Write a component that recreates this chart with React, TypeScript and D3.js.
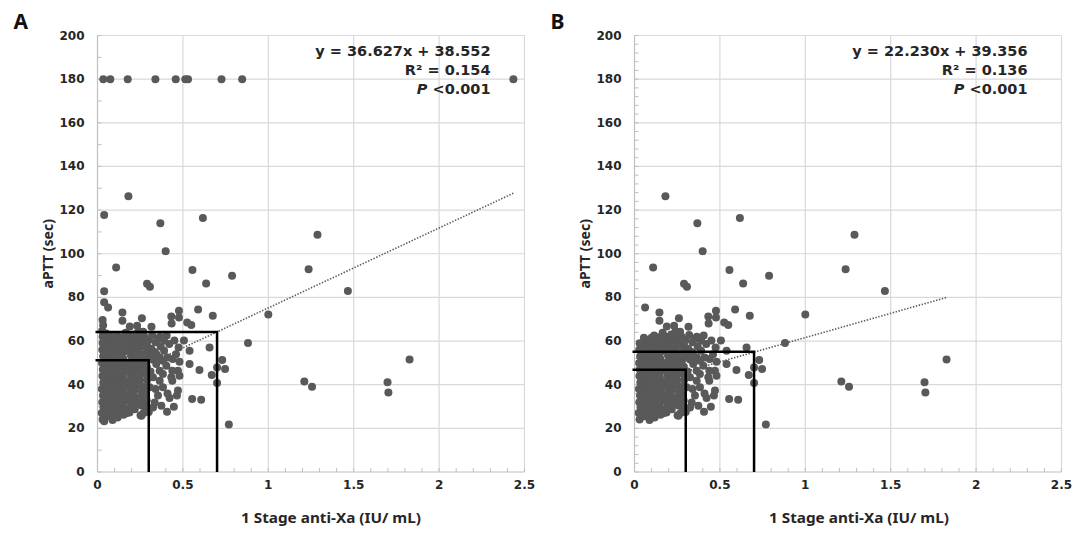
import React from "react";
import * as d3 from "d3";

const W = 1080;
const H = 534;
const PLOT_TOP = 35.5;
const PLOT_BOTTOM = 472;
const PLOT_W = 427;

const xTicks = [0, 0.5, 1, 1.5, 2, 2.5];
const xTickLabels = ["0", "0.5", "1", "1.5", "2", "2.5"];
const yTicks = [0, 20, 40, 60, 80, 100, 120, 140, 160, 180, 200];

// dense cluster near the origin, seen in both panels
const sharedCluster: [number, number][] = [
  [0.03, 24], [0.025, 27], [0.035, 29.5], [0.028, 32], [0.032, 35], [0.026, 38], [0.034, 41],
  [0.029, 44], [0.031, 47], [0.027, 50], [0.033, 53], [0.028, 56], [0.03, 59],
  [0.058, 25.5], [0.062, 28.3], [0.057, 31], [0.064, 34.2], [0.06, 37], [0.056, 40], [0.063, 42.6],
  [0.059, 45.5], [0.061, 48.3], [0.058, 51], [0.063, 54],
  [0.088, 23.8], [0.093, 26.7], [0.09, 29.6], [0.086, 32.4], [0.094, 35.5], [0.091, 38.3], [0.087, 41.2],
  [0.092, 44], [0.089, 46.8], [0.095, 49.6], [0.09, 52.5], [0.086, 55.8],
  [0.118, 25], [0.122, 28], [0.125, 30.8], [0.119, 33.7], [0.124, 36.5], [0.12, 39.4], [0.126, 42.2],
  [0.117, 45.1], [0.123, 48], [0.121, 50.9], [0.127, 53.6], [0.118, 57],
  [0.152, 26.2], [0.157, 29], [0.15, 32], [0.158, 34.8], [0.153, 37.7], [0.156, 40.5], [0.149, 43.5],
  [0.155, 46.3], [0.16, 49.2], [0.151, 52], [0.157, 55.2], [0.154, 58.5],
  [0.187, 27.3], [0.192, 30.2], [0.185, 33], [0.193, 36], [0.19, 38.8], [0.186, 41.7], [0.194, 44.6],
  [0.188, 47.5], [0.191, 50.3], [0.196, 53.4], [0.184, 56.3],
  [0.218, 28.8], [0.224, 31.5], [0.22, 34.5], [0.216, 37.4], [0.225, 40.1], [0.221, 43], [0.217, 45.9],
  [0.226, 48.7], [0.22, 51.6], [0.215, 54.8],
  [0.252, 26], [0.257, 30.5], [0.25, 33.6], [0.258, 36.6], [0.254, 39.5], [0.249, 42.4], [0.256, 45.2],
  [0.253, 48.1], [0.259, 51], [0.251, 54],
  [0.283, 29.5], [0.288, 32.8], [0.281, 35.8], [0.286, 38.9], [0.29, 42], [0.284, 45], [0.289, 48.2],
  [0.282, 51.5], [0.287, 55],
  [0.169, 26.9], [0.257, 25.8], [0.27, 27], [0.3, 27.5],
];

// band between ~50 and ~66 and the spread out to 0.5
const sharedBand: [number, number][] = [
  [0.045, 58], [0.07, 60.5], [0.1, 61.5], [0.085, 58.8], [0.13, 60], [0.115, 62.5], [0.15, 61.8],
  [0.175, 59.5], [0.2, 60.8], [0.165, 63.8], [0.21, 58], [0.235, 61.2], [0.26, 59.2], [0.245, 57],
  [0.275, 62], [0.3, 60.5], [0.29, 58], [0.315, 56.5], [0.32, 62.8], [0.34, 59.5], [0.335, 55],
  [0.355, 61], [0.37, 57.5], [0.39, 60.2], [0.405, 62.5], [0.42, 58.6], [0.45, 60.2], [0.475, 57.1],
  [0.46, 54], [0.44, 51.8], [0.41, 52.5], [0.39, 55.6], [0.365, 52.5], [0.345, 54], [0.325, 51.5],
  [0.3, 53.5], [0.27, 57.5], [0.2, 57], [0.14, 56.5], [0.105, 57.5], [0.075, 57.5],
  [0.045, 54.5], [0.072, 55], [0.1, 54], [0.135, 59.5], [0.17, 56], [0.23, 59], [0.26, 62.5],
  [0.11, 60], [0.185, 62], [0.285, 60], [0.055, 61.5], [0.215, 63], [0.24, 64.5],
  [0.48, 50.5], [0.471, 46.4], [0.432, 43.4], [0.48, 44.1], [0.438, 41.8], [0.438, 46.4], [0.403, 48.7],
  [0.383, 51], [0.344, 49.5], [0.364, 46.4], [0.383, 44.9], [0.325, 43.4], [0.364, 41.8], [0.383, 38.8],
  [0.305, 38.8], [0.354, 35], [0.335, 31.9], [0.325, 29.6], [0.374, 30.4], [0.407, 27.6], [0.447, 29.9],
  [0.471, 37.3], [0.465, 35], [0.422, 33.9], [0.31, 46], [0.34, 38], [0.41, 36],
  [0.062, 75.4], [0.146, 73.1], [0.146, 69.3], [0.189, 66.7], [0.232, 67], [0.26, 70.5], [0.316, 66.6],
  [0.267, 64.3], [0.365, 62], [0.432, 71.3], [0.434, 68], [0.477, 73.9], [0.477, 70.8], [0.525, 68.5],
  [0.549, 67.3], [0.589, 74.4], [0.675, 71.6],
  [0.506, 60.2], [0.539, 55.6], [0.539, 49.5], [0.597, 46.7], [0.554, 33.4], [0.607, 33.1], [0.656, 57.1],
  [0.669, 44.4], [0.7, 47.9], [0.73, 51.3], [0.747, 47.2], [0.7, 40.8],
];

const sharedOutliers: [number, number][] = [
  [0.181, 126.3], [0.109, 93.7], [0.368, 114], [0.399, 101.2], [0.617, 116.4], [0.556, 92.5],
  [0.636, 86.4], [0.788, 89.9], [1.236, 92.9], [1.288, 108.7], [1.466, 82.9], [1.0, 72.2],
  [0.881, 59.1], [1.211, 41.5], [1.256, 39.1], [1.698, 41.1], [1.703, 36.4], [1.827, 51.6],
  [0.769, 21.8], [0.29, 86.2], [0.307, 84.9],
];

// only in panel A
const panelAOnly: [number, number][] = [
  [0.034, 180], [0.075, 180], [0.177, 180], [0.339, 180], [0.458, 180], [0.514, 180], [0.53, 180],
  [0.726, 180], [0.847, 180], [2.435, 180],
  [0.039, 117.7], [0.039, 82.8], [0.039, 77.8],
  [0.03, 62], [0.027, 64.6], [0.033, 67.2], [0.03, 69.6], [0.05, 63.5], [0.039, 23.2], [0.072, 62.5],
];

const pointsA = [...sharedCluster, ...sharedBand, ...sharedOutliers, ...panelAOnly];
const pointsB = [...sharedCluster, ...sharedBand, ...sharedOutliers];

const fitA = { slope: 36.627, intercept: 38.552, eq: "y = 36.627x + 38.552", r2: "0.154" };
const fitB = { slope: 22.23, intercept: 39.356, eq: "y = 22.230x + 39.356", r2: "0.136" };

const refA = [{ x: 0.3, y: 51.2 }, { x: 0.7, y: 64.1 }];
const refB = [{ x: 0.3, y: 46.8 }, { x: 0.7, y: 55.1 }];

const GRID = "#d9d9d9";
const AXIS = "#bfbfbf";
const DOT = "#595959";
const TXT = "#262626";
const TICK_FONT = "'DejaVu Sans', Verdana, sans-serif";

type PanelProps = {
  left: number;
  tag: string;
  points: [number, number][];
  fit: { slope: number; intercept: number; eq: string; r2: string };
  refs: { x: number; y: number }[];
  yMinorStep: number;
  titleX: number;
};

function Panel({ left, tag, points, fit, refs, yMinorStep, titleX }: PanelProps) {
  const x = d3.scaleLinear().domain([0, 2.5]).range([left, left + PLOT_W]);
  const y = d3.scaleLinear().domain([0, 200]).range([PLOT_BOTTOM, PLOT_TOP]);

  const [xmin, xmax] = d3.extent(points, (d) => d[0]) as [number, number];
  const trend = d3
    .line<number>()
    .x((v) => x(v))
    .y((v) => y(fit.slope * v + fit.intercept))([xmin, xmax]);

  const xMinor = d3.range(0, 2.5001, 0.1);
  const yMinor = d3.range(0, 200.001, yMinorStep);

  const eqRight = x(2.5) - 34;

  return (
    <g>
      <text x={left - 84} y={29} fontFamily="'Noto Sans', sans-serif" fontWeight={700} fontSize={21} fill="#111">
        {tag}
      </text>

      {/* grid */}
      {xTicks.slice(1).map((t) => (
        <line key={"gx" + t} x1={x(t)} x2={x(t)} y1={PLOT_TOP} y2={PLOT_BOTTOM} stroke={GRID} strokeWidth={1.2} />
      ))}
      {yTicks.slice(1).map((t) => (
        <line key={"gy" + t} x1={left} x2={left + PLOT_W} y1={y(t)} y2={y(t)} stroke={GRID} strokeWidth={1.2} />
      ))}

      {/* axes */}
      <line x1={left} x2={left} y1={PLOT_TOP} y2={PLOT_BOTTOM} stroke={AXIS} strokeWidth={1.2} />
      <line x1={left} x2={left + PLOT_W} y1={PLOT_BOTTOM} y2={PLOT_BOTTOM} stroke={AXIS} strokeWidth={1.2} />
      {xMinor.map((t) => (
        <line key={"mx" + t} x1={x(t)} x2={x(t)} y1={PLOT_BOTTOM} y2={PLOT_BOTTOM - 4} stroke={AXIS} />
      ))}
      {yMinor.map((t) => (
        <line key={"my" + t} x1={left} x2={left + 4} y1={y(t)} y2={y(t)} stroke={AXIS} />
      ))}

      {/* tick labels */}
      {yTicks.map((t) => (
        <text
          key={"ly" + t}
          x={left - 13}
          y={y(t)}
          textAnchor="end"
          dominantBaseline="central"
          fontFamily={TICK_FONT}
          fontWeight={700}
          fontSize={12}
          fill={TXT}
        >
          {t}
        </text>
      ))}
      {xTicks.map((t, i) => (
        <text
          key={"lx" + t}
          x={x(t)}
          y={PLOT_BOTTOM + 17}
          textAnchor="middle"
          fontFamily={TICK_FONT}
          fontWeight={700}
          fontSize={12}
          fill={TXT}
        >
          {xTickLabels[i]}
        </text>
      ))}

      {/* axis titles */}
      <text
        x={titleX}
        y={523}
        textAnchor="middle"
        fontFamily="'Noto Sans', sans-serif"
        fontWeight={700}
        fontSize={14}
        fill={TXT}
        textLength={180}
        lengthAdjust="spacingAndGlyphs"
      >
        1 Stage anti-Xa (IU/ mL)
      </text>
      <text
        transform={`translate(${left - 50},${(PLOT_TOP + PLOT_BOTTOM) / 2}) rotate(-90)`}
        textAnchor="middle"
        dominantBaseline="central"
        fontFamily="'Noto Sans', sans-serif"
        fontWeight={700}
        fontSize={14}
        fill={TXT}
      >
        aPTT (sec)
      </text>

      {/* points */}
      {points.map((p, i) => (
        <circle key={"p" + i} cx={x(p[0])} cy={y(p[1])} r={4} fill={DOT} />
      ))}

      {/* trend */}
      <path d={trend ?? ""} fill="none" stroke={DOT} strokeWidth={1.6} strokeDasharray="1.4 1.6" />

      {/* reference cut-off lines */}
      {refs.map((r, i) => (
        <path
          key={"r" + i}
          d={`M${left - 2},${y(r.y)}H${x(r.x)}V${PLOT_BOTTOM}`}
          fill="none"
          stroke="#000"
          strokeWidth={2.5}
        />
      ))}

      {/* equation */}
      <g fontFamily={TICK_FONT} fontWeight={700} fontSize={14.5} fill={TXT} textAnchor="end">
        <text x={eqRight} y={56}>
          {fit.eq}
        </text>
        <text x={eqRight} y={75}>
          R² = {fit.r2}
        </text>
        <text x={eqRight} y={94}>
          <tspan fontStyle="italic">P</tspan> {"<0.001"}
        </text>
      </g>
    </g>
  );
}

export default function App() {
  return (
    <svg
      width={W}
      height={H}
      viewBox={`0 0 ${W} ${H}`}
      style={{ position: "absolute", left: 0, top: 0, background: "#fff" }}
    >
      <rect width={W} height={H} fill="#fff" />
      <Panel left={97.5} tag="A" points={pointsA} fit={fitA} refs={refA} yMinorStep={10} titleX={331} />
      <Panel left={634.5} tag="B" points={pointsB} fit={fitB} refs={refB} yMinorStep={4} titleX={859} />
    </svg>
  );
}
